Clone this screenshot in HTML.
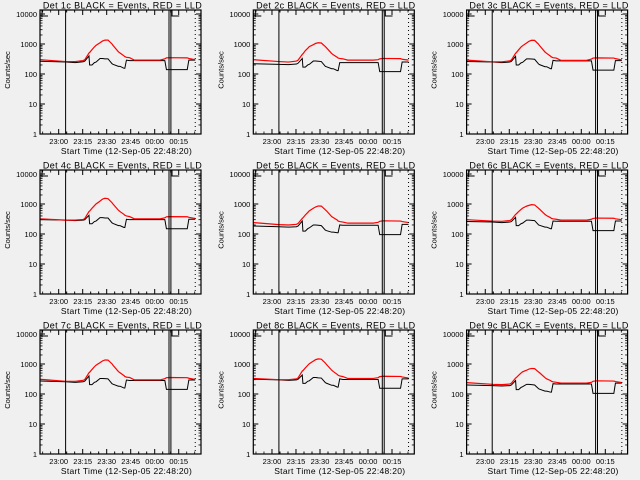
<!DOCTYPE html>
<html><head><meta charset="utf-8"><style>
html,body{margin:0;padding:0;background:#f0f0f0;}
svg{display:block;}
text{font-family:"Liberation Sans",sans-serif;fill:#000;}
</style></head><body>
<svg id="chart" width="640" height="480"></svg>
<script>
const panelNames = ["1c","2c","3c","4c","5c","6c","7c","8c","9c"];
const times = [0,16,22,27,28,30.6,31,32.5,34,35,37.5,39,40.6,42.5,45,45.6,49,50,52.5,53,54,56,59,75,78,79,81,92,93,97];
const tickMinutes = [11.67,26.67,41.67,56.67,71.67,86.67];
const tickLabels = ["23:00","23:15","23:30","23:45","00:00","00:15"];
const yTickValues = [1,10,100,1000,10000];
const yTickLabels = ["1","10","100","1000","10000"];
const markerLines = [16,80.6,81.8];
const dottedLines = [97];
const black = [
 [265,250,240,255,270,400,200,200,240,250,330,330,320,320,220,210,180,180,155,155,290,280,280,280,280,140,140,140,290,290],
 [220,210,205,215,230,330,170,170,200,210,270,270,265,260,180,175,150,150,130,130,240,240,240,240,240,120,120,120,250,250],
 [260,250,240,250,265,390,200,200,235,245,320,320,315,310,215,205,175,175,150,150,285,275,275,275,275,135,135,135,280,280],
 [300,290,280,290,300,420,220,220,260,270,350,350,340,340,235,225,190,190,165,165,310,300,300,300,300,150,150,150,310,310],
 [185,175,170,175,185,270,125,125,150,160,200,200,195,190,135,130,115,115,110,110,200,195,195,195,195,95,95,95,210,210],
 [260,250,240,250,260,360,190,190,220,230,290,290,285,280,200,195,170,170,150,150,270,265,265,265,265,130,130,130,270,270],
 [270,255,245,255,270,400,205,205,245,255,330,330,325,320,220,212,182,182,158,158,292,282,282,282,282,142,142,142,292,292],
 [310,295,285,295,310,430,225,225,265,275,355,355,345,340,240,230,195,195,170,170,320,305,305,305,305,155,155,155,320,320],
 [200,190,185,190,200,280,140,140,165,175,210,210,205,200,150,145,125,125,115,115,220,215,215,215,215,105,105,105,230,230]
];
const red = [
 [300,260,260,280,300,500,520,650,800,900,1100,1250,1350,1350,1000,900,550,500,400,380,360,350,290,290,320,345,350,345,330,300],
 [300,260,250,270,290,450,470,600,720,820,950,1050,1100,1080,820,760,480,440,360,340,330,320,290,290,300,320,330,325,310,290],
 [290,255,255,275,295,490,510,640,790,880,1080,1230,1330,1320,980,880,540,490,390,370,350,340,285,285,315,340,345,340,325,295],
 [320,290,290,305,330,560,580,720,880,1000,1250,1450,1550,1500,1100,1000,620,560,450,420,400,380,320,320,345,375,380,375,360,330],
 [240,205,200,210,225,330,345,430,520,590,720,800,860,850,640,600,380,350,290,270,260,250,230,230,245,265,275,270,260,240],
 [300,270,265,280,300,450,465,560,660,730,850,900,950,930,720,670,450,410,350,330,320,310,290,290,310,330,340,335,320,300],
 [310,265,265,285,305,510,530,660,810,910,1110,1260,1360,1350,1010,910,560,510,410,385,365,355,295,295,325,350,355,350,335,305],
 [330,300,300,320,345,580,600,740,900,1020,1250,1400,1480,1450,1080,980,620,560,450,420,400,380,330,330,350,380,390,385,370,340],
 [240,210,205,215,230,340,350,420,500,550,620,680,710,700,540,510,350,320,280,265,255,245,230,230,245,265,275,270,260,240]
];

const NS = "http://www.w3.org/2000/svg";
const svg = document.getElementById("chart");
function mk(tag, attrs, parent){ const e=document.createElementNS(NS,tag); for(const k in attrs) e.setAttribute(k,attrs[k]); (parent||svg).appendChild(e); return e; }

const PW = 161, PH = 124, T0 = 0, T1 = 100.6, LOGMAX = 4 + 4/30;
panelNames.forEach((nm, i) => {
  const col = i % 3, row = Math.floor(i / 3);
  const x0 = 40 + col * 213.3, y0 = 10 + row * 160;
  const g = mk("g", {});
  
  
  const xs = t => x0 + (t - T0) / (T1 - T0) * PW;
  const ys = v => y0 + PH - (Math.log10(v) / LOGMAX) * PH;

  const title = mk("text", {x: x0 + PW/2 + 2, y: y0 - 1.5, "font-size": 9, "letter-spacing": 0.4, "text-anchor": "middle"}, g);
  title.textContent = "Det " + nm + " BLACK = Events, RED = LLD";
  
  

  const yl = mk("text", {x: 0, y: 0, "font-size": 7.5, "text-anchor": "middle", transform: `translate(${x0-30},${y0+PH/2 - 2}) rotate(-90)`}, g);
  yl.textContent = "Counts/sec";
  
  

  const xl = mk("text", {x: x0 + PW/2 + 6, y: y0 + PH + 20, "font-size": 8.5, "letter-spacing": 0.3, "text-anchor": "middle"}, g);
  xl.textContent = "Start Time (12-Sep-05 22:48:20)";
  
  

  for (let d = 0; d < 5; d++) {
    const v = yTickValues[d];
    const y = ys(v);
    mk("line", {x1: x0, x2: x0+5, y1: y, y2: y, stroke: "#000"}, g);
    mk("line", {x1: x0+PW, x2: x0+PW-5, y1: y, y2: y, stroke: "#000"}, g);
    const tl = mk("text", {x: x0 - 3, y: y + 3, "font-size": 7.5, "text-anchor": "end"}, g);
    tl.textContent = yTickLabels[d];
    
    
    for (let m = 2; m <= 9; m++) {
      const mv = v * m; if (Math.log10(mv) > LOGMAX) break;
      const my = ys(mv);
      mk("line", {x1: x0, x2: x0+2.5, y1: my, y2: my, stroke: "#000", "stroke-width": 0.8}, g);
      mk("line", {x1: x0+PW, x2: x0+PW-2.5, y1: my, y2: my, stroke: "#000", "stroke-width": 0.8}, g);
    }
  }
  tickMinutes.forEach((t, k) => {
    const x = xs(t);
    mk("line", {x1: x, x2: x, y1: y0+PH, y2: y0+PH-5, stroke: "#000"}, g);
    mk("line", {x1: x, x2: x, y1: y0, y2: y0+5, stroke: "#000"}, g);
    const tl = mk("text", {x: x, y: y0 + PH + 10, "font-size": 7.5, "text-anchor": "middle"}, g);
    tl.textContent = tickLabels[k];
    
    
    for (let m = -10; m <= 10; m += 5) {
      if (m === 0) continue;
      const mt = t + m; if (mt < T0 || mt > T1) continue;
      const mx = xs(mt);
      mk("line", {x1: mx, x2: mx, y1: y0+PH, y2: y0+PH-2.5, stroke: "#000", "stroke-width": 0.8}, g);
      mk("line", {x1: mx, x2: mx, y1: y0, y2: y0+2.5, stroke: "#000", "stroke-width": 0.8}, g);
    }
  });

  const linePts = arr => arr.map((v, k) => `${xs(times[k])},${ys(v)}`).join(" ");
  const bl = mk("polyline", {points: linePts(black[i]), fill: "none", stroke: "#000", "stroke-width": 1}, g);
  
  
  const rl = mk("polyline", {points: linePts(red[i]), fill: "none", stroke: "#ff0000", "stroke-width": 1.2}, g);
  
  

  markerLines.forEach(t => {
    const x = xs(t);
    const l = mk("line", {x1: x, x2: x, y1: y0, y2: y0+PH, stroke: "#000", "stroke-width": 1}, g);
    
    
  });
  dottedLines.forEach(t => {
    const x = xs(t);
    const l = mk("line", {x1: x, x2: x, y1: y0, y2: y0+PH, stroke: "#000", "stroke-dasharray": "1,3"}, g);
    
    
  });
  [[x0+2, x0+8], [xs(82.5), xs(87)]].forEach(b => {
    mk("polyline", {points: `${b[0]},${y0} ${b[0]},${y0+6} ${b[1]},${y0+6}`, fill: "none", stroke: "#000"}, g);
  });

  const box = mk("rect", {x: x0, y: y0, width: PW, height: PH, fill: "none", stroke: "#000", "stroke-width": 1.2}, g);
  
  
});
</script>
</body></html>
